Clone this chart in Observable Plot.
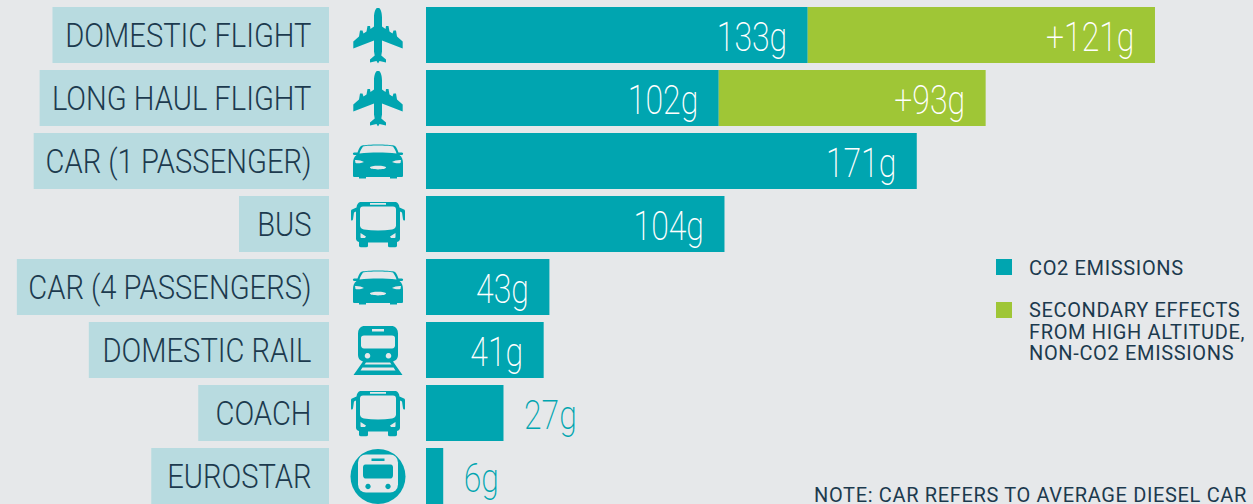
<!DOCTYPE html>
<html>
<head>
<meta charset="utf-8">
<script src="https://cdn.jsdelivr.net/npm/d3@7"></script>
<script src="https://cdn.jsdelivr.net/npm/@observablehq/plot@0.6"></script>
<style>
html,body{margin:0;padding:0;background:#e6e8ea;overflow:hidden}
#wrap{position:relative;width:1253px;height:504px;overflow:hidden}
#wrap svg{display:block;background:transparent;position:absolute;left:0;top:0}
.ov{position:absolute;font-family:Roboto,sans-serif;font-weight:400;color:#1c3a4e;font-size:20px;letter-spacing:.65px;line-height:21.5px;white-space:nowrap}
.sw{position:absolute;width:16px;height:16px}
</style>
</head>
<body>
<div id="wrap"></div>
<script>
const categories = ["DOMESTIC FLIGHT","LONG HAUL FLIGHT","CAR (1 PASSENGER)","BUS","CAR (4 PASSENGERS)","DOMESTIC RAIL","COACH","EUROSTAR"];
const co2 = [133,102,171,104,43,41,27,6];
const secondary = [121,93,0,0,0,0,0,0];
const iconKinds = ["plane","plane","car","bus","car","train","bus","eurostar"];
const seriesNames = ["CO2 EMISSIONS","SECONDARY EFFECTS"];
const TEAL="#00a5b0", GREEN="#9fc636", BOX="#b8dbe0", INK="#1c3a4e", BG="#e6e8ea";
const k = 2.87, originPx = 426, W = 1253, H = 504;
const px = p => (p - originPx) / k;
const LABEL_WEIGHT = 300, LABEL_SIZE = 32.4, LABEL_SPACING = -0.5, LABEL_SCALE = 0.9;
const VALUE_SIZE = 41, VALUE_SCALE = 0.78;

const meas = document.createElement("canvas").getContext("2d");
meas.font = `${LABEL_WEIGHT} ${LABEL_SIZE}px Roboto`;
const textW = s => (meas.measureText(s).width + LABEL_SPACING * s.length) * LABEL_SCALE;

const long = categories.flatMap((c,i)=>[
  {cat:c,series:seriesNames[0],value:co2[i]},
  {cat:c,series:seriesNames[1],value:secondary[i]}
]).filter(d=>d.value>0);

const labels = [];
categories.forEach((c,i)=>{
  const big = co2[i] >= 40;
  labels.push({cat:c,x:co2[i],t:co2[i]+"g",inside:big});
  if(secondary[i]) labels.push({cat:c,x:co2[i]+secondary[i],t:"+"+secondary[i]+"g",inside:true});
});
const boxes = categories.map(c=>({cat:c,x1:px(311-textW(c)-19),x2:px(329)}));

const icon = {
 plane:`<svg xmlns='http://www.w3.org/2000/svg' viewBox='0 0 50 56'><path fill='${TEAL}' d='M25 0C27.4 0 29 5 29 10V19L32.5 21.5 33 18.5H35.5L36.5 24 39.5 26 40.5 23H43L44 29 49.7 34V41L29 33V44L28.3 48 33 52V55L26.5 53.5 25 56 23.5 53.5 17 55V52L21.7 48 21 44V33L.3 41V34L6 29 7 23H9.5L10.5 26 13.5 24 14.5 18.5H17L17.5 21.5 21 19V10C21 5 22.6 0 25 0Z'/></svg>`,
 car:`<svg xmlns='http://www.w3.org/2000/svg' viewBox='0 0 52 36'><path fill='${TEAL}' d='M10 2C16 .5 36 .5 42 2 44 2.5 45 5 46.5 9H50C51.5 9 51.5 11.5 50 11.5H47.5C50 13.5 51 16 51 20V32C51 33 50.5 33.5 49.5 33.5H45V35H38V33.5H14V35H7V33.5H2.5C1.5 33.5 1 33 1 32V20C1 16 2 13.5 4.5 11.5H2C.5 11.5 .5 9 2 9H5.5C7 5 8 2.5 10 2Z'/><path fill='${BG}' d='M11 3C17 1.8 35 1.8 41 3 42.5 5 44 8 44.5 10 33 8.7 19 8.7 7.500 10 8 8 9.500 5 11 3Z'/><path fill='${BG}' d='M3 16.5C6 16.3 10 17 12 18.5 9 20 5 20 3.5 19.5ZM49 16.5C46 16.3 42 17 40 18.5 43 20 47 20 48.5 19.5ZM18 24C18 21.8 34 21.8 34 24 34 26.5 18 26.5 18 24Z'/></svg>`,
 bus:`<svg xmlns='http://www.w3.org/2000/svg' viewBox='0 0 54 46'><path fill='${TEAL}' d='M12 0H42C46 0 48 2 48.5 6L53 8C53.8 8.3 54 9 54 10V18C54 19.5 52.5 19.5 52 18L51 11 49 10V37C49 39 48 40 46 40.5V44C46 45.3 45 46 44 46H39C37.5 46 37 45.3 37 44V41H17V44C17 45.3 16.5 46 15 46H10C9 46 8 45.3 8 44V40.5C6 40 5 39 5 37V10L3 11 2 18C1.5 19.5 0 19.5 0 18V10C0 9 .2 8.3 1 8L5.5 6C6 2 8 0 12 0Z'/><path fill='${BG}' d='M12 5H42C44 5 45 6 45 8V24C45 26.5 43 27.5 41 28 32 29.3 22 29.3 13 28 11 27.5 9 26.5 9 24V8C9 6 10 5 12 5ZM19 1.5H35V3.3H19ZM9.5 31.5 15 35 14 36.5H10.5C9.8 36.5 9.5 36 9.5 35.5ZM44.5 31.5 39 35 40 36.5H43.5C44.2 36.5 44.5 36 44.5 35.5Z'/></svg>`,
 train:`<svg xmlns='http://www.w3.org/2000/svg' viewBox='0 0 50 50'><path fill='${TEAL}' d='M14 0H36C42 0 45 3 45 8V29C45 33 43 35 40 36L49.5 49.5H.5L10 36C7 35 5 33 5 29V8C5 3 8 0 14 0Z'/><path fill='${BG}' d='M11 10H39C41 10 42 11 42 12.5V20C42 21.5 41 23 39 23H11C9 23 8 21.5 8 20V12.5C8 11 9 10 11 10ZM19 3.5H31V6H19ZM14.5 27.5A2.8 2.8 0 1 0 14.51 27.5ZM35.5 27.5A2.8 2.8 0 1 0 35.51 27.5ZM13 37H37L38.5 39H11.5ZM9.5 42H40.5L42.5 45H7.5Z'/></svg>`,
 eurostar:`<svg xmlns='http://www.w3.org/2000/svg' viewBox='0 0 56 56'><circle cx='28' cy='28' r='27.5' fill='${TEAL}'/><rect x='8' y='6' width='40' height='38' rx='8' fill='${BG}'/><path fill='${TEAL}' d='M15.5 16H40.5C42.5 16 43 17.5 43 19V26.5C43 28 42.5 30 40.5 30H15.5C13.5 30 13 28 13 26.5V19C13 17.5 13.5 16 15.500 16ZM21.500 10H34.500V12.500H21.500ZM18 35.300A2.700 2.700 0 1 0 18.010 35.300ZM38 35.300A2.700 2.700 0 1 0 38.010 35.300Z'/></svg>`
};
const iconSize = {plane:[50,56],car:[52,36],bus:[54,46],train:[50,50],eurostar:[56,56]};
const icons = categories.map((c,i)=>({cat:c,kind:iconKinds[i],
  src:"data:image/svg+xml;utf8,"+encodeURIComponent(icon[iconKinds[i]])}));

const chart = Plot.plot({
  width:W,height:H,margin:0,
  style:{background:"transparent",fontFamily:"Roboto,sans-serif"},
  x:{domain:[px(0),px(W)],range:[0,W],axis:null},
  y:{domain:categories,range:[2.6,508.4],paddingInner:0.111,paddingOuter:0.0555,align:0.5,axis:null},
  color:{domain:seriesNames,range:[TEAL,GREEN]},
  marks:[
    Plot.barX(boxes,{x1:"x1",x2:"x2",y:"cat",fill:BOX}),
    Plot.text(categories,{className:"lbl",y:d=>d,x:()=>px(311),text:d=>d,dy:1,textAnchor:"end",fill:INK,fontSize:LABEL_SIZE,fontWeight:LABEL_WEIGHT,style:`letter-spacing:${LABEL_SPACING}px`}),
    Plot.image(icons,{x:()=>px(377.5),y:"cat",src:"src",width:d=>iconSize[d.kind][0],height:d=>iconSize[d.kind][1],preserveAspectRatio:"none"}),
    Plot.barX(long,Plot.stackX({x:"value",y:"cat",fill:"series",order:seriesNames})),
    Plot.text(labels.filter(d=>d.inside),{className:"val",x:"x",y:"cat",text:"t",dx:-21,dy:2,textAnchor:"end",fill:"#fff",fontSize:VALUE_SIZE,fontWeight:200}),
    Plot.text(labels.filter(d=>!d.inside),{className:"val",x:"x",y:"cat",text:"t",dx:20,dy:2,textAnchor:"start",fill:TEAL,fontSize:VALUE_SIZE,fontWeight:200})
  ]
});
const wrap=document.getElementById("wrap");
wrap.appendChild(chart);
const squeeze=(sel,s)=>d3.select(chart).selectAll(sel+" text").attr("transform",function(){return (this.getAttribute("transform")||"")+` scale(${s},1)`;});
squeeze(".lbl",LABEL_SCALE);squeeze(".val",VALUE_SCALE);
function ov(html,l,t,lh){const d=document.createElement("div");d.className="ov";d.style.left=l+"px";d.style.top=t+"px";if(lh)d.style.lineHeight=lh+"px";d.innerHTML=html;wrap.appendChild(d);}
function sw(c,l,t){const d=document.createElement("div");d.className="sw";d.style.left=l+"px";d.style.top=t+"px";d.style.background=c;wrap.appendChild(d);}
sw(TEAL,996,259);sw(GREEN,996,302);
ov("CO2 EMISSIONS",1029,258);
ov("SECONDARY EFFECTS<br>FROM HIGH ALTITUDE,<br>NON-CO2 EMISSIONS",1029,300);
ov("NOTE: CAR REFERS TO AVERAGE DIESEL CAR",814,486,18);
</script>
</body>
</html>
